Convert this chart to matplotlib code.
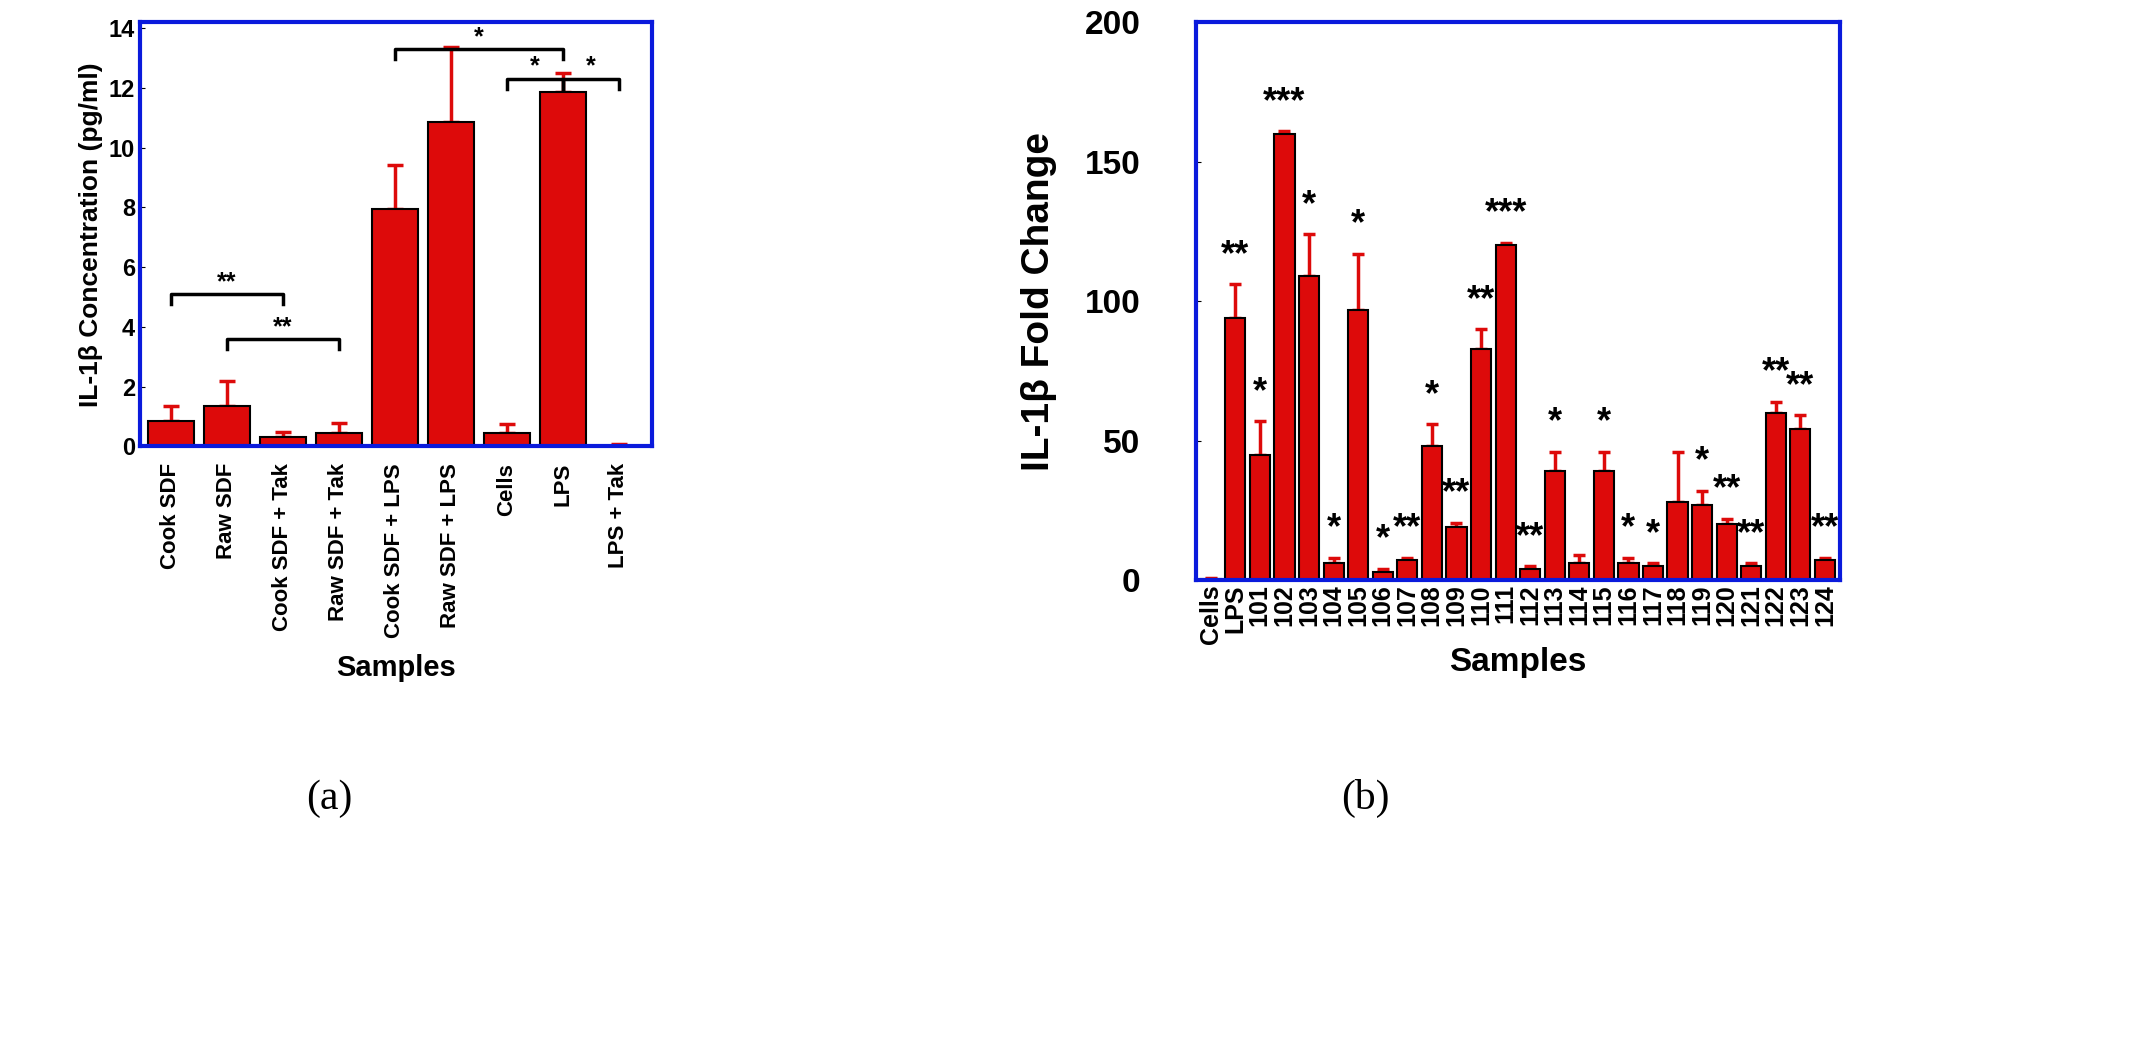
import matplotlib.pyplot as plt
import numpy as np

plt.rcParams['font.family'] = ['Liberation Sans', 'DejaVu Sans']

a_labels = ["Cook SDF", "Raw SDF", "Cook SDF + Tak", "Raw SDF + Tak", "Cook SDF + LPS",
            "Raw SDF + LPS", "Cells", "LPS", "LPS + Tak"]
a_values = [0.85, 1.35, 0.3, 0.45, 7.95, 10.85, 0.45, 11.85, 0.02]
a_errors = [0.5, 0.85, 0.2, 0.35, 1.45, 2.5, 0.3, 0.65, 0.06]
# brackets: (left index, right index, height, label)
a_brackets = [(0, 2, 5.1, "**"), (1, 3, 3.6, "**"), (4, 7, 13.3, "*"), (6, 7, 12.3, "*"), (7, 8, 12.3, "*")]

b_labels = ["Cells", "LPS"] + [str(n) for n in range(101, 125)]
b_values = [0.5, 94, 45, 160, 109, 6, 97, 3, 7, 48, 19, 83, 120, 4, 39, 6, 39, 6, 5, 28, 27, 20, 5, 60, 54, 7]
b_errors = [0.3, 12, 12, 1, 15, 2, 20, 1, 1, 8, 1.5, 7, 1, 1, 7, 3, 7, 2, 1, 18, 5, 2, 1, 4, 5, 1]
b_stars = ["", "**", "*", "***", "*", "*", "*", "*", "**", "*", "**", "**", "***", "**", "*", "",
           "*", "*", "*", "", "*", "**", "**", "**", "**", "**"]

red = "#dd0a0a"
blue = "#0a1adc"

fig = plt.figure(figsize=(21.53, 10.48), dpi=100)

ax = fig.add_axes([0.065, 0.574, 0.238, 0.405])
x = np.arange(len(a_labels))
ax.bar(x, a_values, width=0.82, color=red, edgecolor="black", linewidth=1.5, zorder=2)
ax.errorbar(x, a_values, yerr=[np.zeros(len(x)), a_errors], fmt="none", ecolor=red,
            elinewidth=2.5, capsize=6, capthick=2.5, zorder=1)
for l, r, h, s in a_brackets:
    ax.plot([x[l], x[l], x[r], x[r]], [h - 0.35, h, h, h - 0.35], color="black", lw=2.5)
    ax.text((x[l] + x[r]) / 2, h, s, ha="center", va="bottom", fontsize=18, fontweight="bold")
ax.set_xlim(-0.55, 8.6)
ax.set_ylim(0, 14.2)
ax.set_yticks(range(0, 15, 2))
ax.set_xticks(x)
ax.set_xticklabels(a_labels, rotation=90, fontsize=16, fontweight="bold")
ax.tick_params(axis="y", labelsize=17, direction="in")
ax.tick_params(axis="x", length=0, pad=12)
for lab in ax.get_yticklabels():
    lab.set_fontweight("bold")
ax.set_ylabel("IL-1β Concentration (pg/ml)", fontsize=19, fontweight="bold")
ax.set_xlabel("Samples", fontsize=21, fontweight="bold", labelpad=12)
for sp in ax.spines.values():
    sp.set_color(blue)
    sp.set_linewidth(3)

bx = fig.add_axes([0.5555, 0.4466, 0.299, 0.532])
x2 = np.arange(len(b_labels))
bx.bar(x2, b_values, width=0.82, color=red, edgecolor="black", linewidth=1.5, zorder=2)
bx.errorbar(x2, b_values, yerr=[np.zeros(len(x2)), b_errors], fmt="none", ecolor=red,
            elinewidth=2.5, capsize=4, capthick=2.5, zorder=1)
for xi, v, e, s in zip(x2, b_values, b_errors, b_stars):
    if s:
        bx.text(xi, v + e + 4, s, ha="center", va="bottom", fontsize=26, fontweight="bold")
bx.set_xlim(-0.6, len(b_labels) - 0.4)
bx.set_ylim(0, 200)
bx.set_yticks([0, 50, 100, 150, 200])
bx.set_xticks(x2)
bx.set_xticklabels(b_labels, rotation=90, fontsize=18, fontweight="bold")
bx.tick_params(axis="y", labelsize=24, direction="in", pad=40)
bx.tick_params(axis="x", length=0, pad=3)
for lab in bx.get_yticklabels():
    lab.set_fontweight("bold")
bx.set_ylabel("IL-1β Fold Change", fontsize=28, fontweight="bold", labelpad=20)
bx.set_xlabel("Samples", fontsize=24, fontweight="bold", labelpad=2)
for sp in bx.spines.values():
    sp.set_color(blue)
    sp.set_linewidth(3)

fig.text(0.153, 0.238, "(a)", fontsize=30, family="Liberation Serif", ha="center", va="center")
fig.text(0.634, 0.238, "(b)", fontsize=30, family="Liberation Serif", ha="center", va="center")

fig.savefig("out.png", dpi=100)
